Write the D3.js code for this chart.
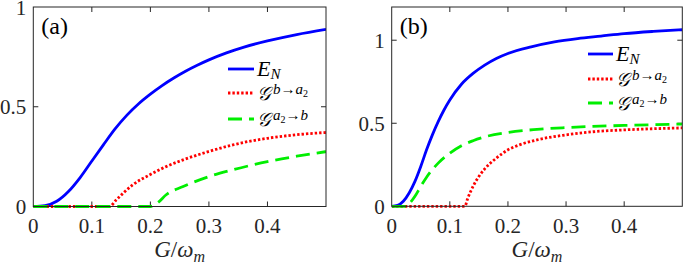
<!DOCTYPE html>
<html lang="en">
<head>
<meta charset="UTF-8">
<title>E_N and steering vs G</title>
<script src="https://d3js.org/d3.v7.min.js"></script>
<style>
    body { margin: 0; padding: 0; background: #fff; }
    svg { display: block; }
    .tick-label { font-size: 21px; fill: #262626; }
    .frame { fill: none; stroke: #262626; stroke-width: 1; }
</style>
</head>
<body>
<svg id="chart" width="685" height="266"></svg>
<script>
// x ticks shared by both panels
const xTicks = [0, 0.1, 0.2, 0.3, 0.4];

// panel (a)
const aG_E = [0, 0.02, 0.04, 0.06, 0.08, 0.10, 0.12, 0.14, 0.16, 0.18, 0.20, 0.22, 0.24, 0.26, 0.28, 0.30, 0.33, 0.36, 0.40, 0.45, 0.50];
const aE   = [0, 0.004, 0.026, 0.075, 0.145, 0.228, 0.31, 0.39, 0.458, 0.515, 0.563, 0.606, 0.644, 0.678, 0.708, 0.735, 0.77, 0.799, 0.83, 0.862, 0.888];
const aG_ba = [0, 0.13, 0.142, 0.17, 0.199, 0.227, 0.256, 0.299, 0.341, 0.40, 0.45, 0.50];
const aBA   = [0, 0, 0.034, 0.109, 0.159, 0.20, 0.234, 0.275, 0.309, 0.342, 0.36, 0.371];
const aG_ab = [0, 0.20, 0.213, 0.227, 0.256, 0.30, 0.341, 0.40, 0.45, 0.50];
const aAB   = [0, 0, 0.02, 0.059, 0.10, 0.15, 0.184, 0.225, 0.252, 0.275];
const aYTicks = [0, 0.5, 1];

// panel (b)
const bG_E = [0, 0.01, 0.02, 0.03, 0.04, 0.05, 0.06, 0.07, 0.08, 0.09, 0.10, 0.12, 0.14, 0.16, 0.18, 0.20, 0.24, 0.28, 0.32, 0.36, 0.40, 0.45, 0.50];
const bE   = [0, 0.005, 0.03, 0.08, 0.15, 0.24, 0.34, 0.43, 0.51, 0.58, 0.64, 0.735, 0.80, 0.85, 0.89, 0.92, 0.96, 0.99, 1.01, 1.025, 1.04, 1.053, 1.063];
const bG_ba = [0, 0.126, 0.13, 0.14, 0.15, 0.16, 0.18, 0.20, 0.22, 0.25, 0.30, 0.35, 0.40, 0.45, 0.50];
const bBA   = [0, 0, 0.04, 0.12, 0.18, 0.225, 0.29, 0.34, 0.37, 0.40, 0.43, 0.45, 0.46, 0.467, 0.472];
const bG_ab = [0, 0.025, 0.03, 0.04, 0.05, 0.06, 0.08, 0.10, 0.12, 0.14, 0.16, 0.20, 0.25, 0.30, 0.40, 0.50];
const bAB   = [0, 0, 0.015, 0.06, 0.12, 0.175, 0.26, 0.32, 0.365, 0.395, 0.418, 0.445, 0.463, 0.474, 0.487, 0.495];
const bYTicks = [0, 0.5, 1];

const svg = d3.select("#chart");
const serif = "Liberation Serif";

const styles = {
    E:  { color: "#0000ff", dash: null },
    ba: { color: "#ff0000", dash: "2.4,2" },
    ab: { color: "#00ee00", dash: "14,7" }
};

function drawPanel(cfg) {
    const x = d3.scaleLinear().domain([0, 0.5]).range(cfg.xr);
    const y = d3.scaleLinear().domain(cfg.yd).range(cfg.yr);
    const g = svg.append("g").style("font-family", serif);

    const clipId = "clip-" + cfg.name;
    svg.append("clipPath").attr("id", clipId)
        .append("rect")
        .attr("x", cfg.xr[0]).attr("y", cfg.yr[1] - 2)
        .attr("width", cfg.xr[1] - cfg.xr[0]).attr("height", cfg.yr[0] - cfg.yr[1] + 4);

    // ticks (inward, all four sides)
    const tk = 5;
    xTicks.forEach(t => {
        if (t === 0) return;
        g.append("line").attr("x1", x(t)).attr("x2", x(t))
            .attr("y1", cfg.yr[0]).attr("y2", cfg.yr[0] - tk)
            .attr("stroke", "#262626");
        g.append("line").attr("x1", x(t)).attr("x2", x(t))
            .attr("y1", cfg.yr[1]).attr("y2", cfg.yr[1] + tk)
            .attr("stroke", "#262626");
    });
    cfg.yTicks.forEach(t => {
        if (y(t) <= cfg.yr[1] + 1 || t === 0) return;
        g.append("line").attr("x1", cfg.xr[0]).attr("x2", cfg.xr[0] + tk)
            .attr("y1", y(t)).attr("y2", y(t)).attr("stroke", "#262626");
        g.append("line").attr("x1", cfg.xr[1]).attr("x2", cfg.xr[1] - tk)
            .attr("y1", y(t)).attr("y2", y(t)).attr("stroke", "#262626");
    });

    // tick labels
    xTicks.forEach(t => {
        g.append("text").attr("class", "tick-label").style("font-family", serif)
            .attr("x", x(t)).attr("y", 233)
            .attr("text-anchor", "middle")
            .text(t === 0 ? "0" : d3.format(".1f")(t));
    });
    cfg.yTicks.forEach(t => {
        g.append("text").attr("class", "tick-label").style("font-family", serif)
            .attr("x", cfg.xr[0] - 7).attr("y", y(t) + 7.5)
            .attr("text-anchor", "end")
            .text(t === 0 ? "0" : (t === 1 ? "1" : d3.format(".1f")(t)));
    });

    // curves
    const line = d3.line().x(d => x(d[0])).y(d => y(d[1])).curve(d3.curveMonotoneX);
    const lines = g.append("g").attr("clip-path", `url(#${clipId})`);
    cfg.series.forEach(s => {
        const st = styles[s.key];
        lines.append("path")
            .datum(s.xs.map((v, i) => [v, s.ys[i]]))
            .attr("d", line)
            .attr("fill", "none")
            .attr("stroke", st.color)
            .attr("stroke-width", 2.8)
            .attr("stroke-dasharray", st.dash);
    });

    // frame
    g.append("rect").attr("class", "frame")
        .attr("x", cfg.xr[0]).attr("y", cfg.yr[1])
        .attr("width", cfg.xr[1] - cfg.xr[0]).attr("height", cfg.yr[0] - cfg.yr[1]);

    // panel tag
    g.append("text").attr("x", cfg.xr[0] + 8).attr("y", 34).style("font-family", serif)
        .attr("font-size", 24).attr("fill", "#000").text(cfg.tag);

    // x label
    const xl = g.append("text").attr("x", (cfg.xr[0] + cfg.xr[1]) / 2).attr("y", 257)
        .attr("text-anchor", "middle").attr("font-size", 23).attr("fill", "#262626")
        .style("font-family", serif).attr("font-style", "italic");
    xl.append("tspan").text("G");
    xl.append("tspan").attr("font-style", "normal").text("/");
    xl.append("tspan").text("ω");
    xl.append("tspan").attr("font-size", 16).attr("dy", 5).text("m");

    // legend
    const L = cfg.legend;
    ["E", "ba", "ab"].forEach((k, i) => {
        const ly = L.y[i];
        const st = styles[k];
        g.append("line").attr("x1", L.x0).attr("x2", L.x1)
            .attr("y1", ly).attr("y2", ly)
            .attr("stroke", st.color).attr("stroke-width", 2.8)
            .attr("stroke-dasharray", st.dash);
        const tx = L.x1 + 3;
        if (k === "E") {
            const t = g.append("text").attr("x", tx).attr("y", ly + 6.5).style("font-family", serif)
                .attr("font-size", 22).attr("fill", "#000").attr("font-style", "italic");
            t.append("tspan").text("E");
            t.append("tspan").attr("font-size", 15).attr("dy", 3).text("N");
        } else {
            g.append("text").attr("x", tx).attr("y", ly + 6.5).style("font-family", serif)
                .attr("font-size", 19).attr("fill", "#000").attr("font-style", "italic")
                .text("𝒢");
            const sp = g.append("text").attr("x", tx + 16).attr("y", ly + 0.5).style("font-family", serif)
                .attr("font-size", 15).attr("fill", "#000");
            if (k === "ba") {
                sp.append("tspan").attr("font-style", "italic").text("b");
                sp.append("tspan").text("→");
                sp.append("tspan").attr("font-style", "italic").text("a");
                sp.append("tspan").attr("font-size", 10).attr("dy", 3).text("2");
            } else {
                sp.append("tspan").attr("font-style", "italic").text("a");
                sp.append("tspan").attr("font-size", 10).attr("dy", 3).text("2");
                sp.append("tspan").attr("dy", -3).text("→");
                sp.append("tspan").attr("font-style", "italic").text("b");
            }
        }
    });
}

drawPanel({
    name: "a", tag: "(a)",
    xr: [33.3, 326], yr: [206.5, 7], yd: [0, 1], yTicks: aYTicks,
    legend: { x0: 228, x1: 254, y: [69, 93, 119] },
    series: [
        { key: "E", xs: aG_E, ys: aE },
        { key: "ba", xs: aG_ba, ys: aBA },
        { key: "ab", xs: aG_ab, ys: aAB }
    ]
});

drawPanel({
    name: "b", tag: "(b)",
    xr: [391.7, 682.3], yr: [206.3, 7], yd: [0, 1.2], yTicks: bYTicks,
    legend: { x0: 588, x1: 613, y: [54, 79, 103] },
    series: [
        { key: "E", xs: bG_E, ys: bE },
        { key: "ba", xs: bG_ba, ys: bBA },
        { key: "ab", xs: bG_ab, ys: bAB }
    ]
});
</script>
</body>
</html>
